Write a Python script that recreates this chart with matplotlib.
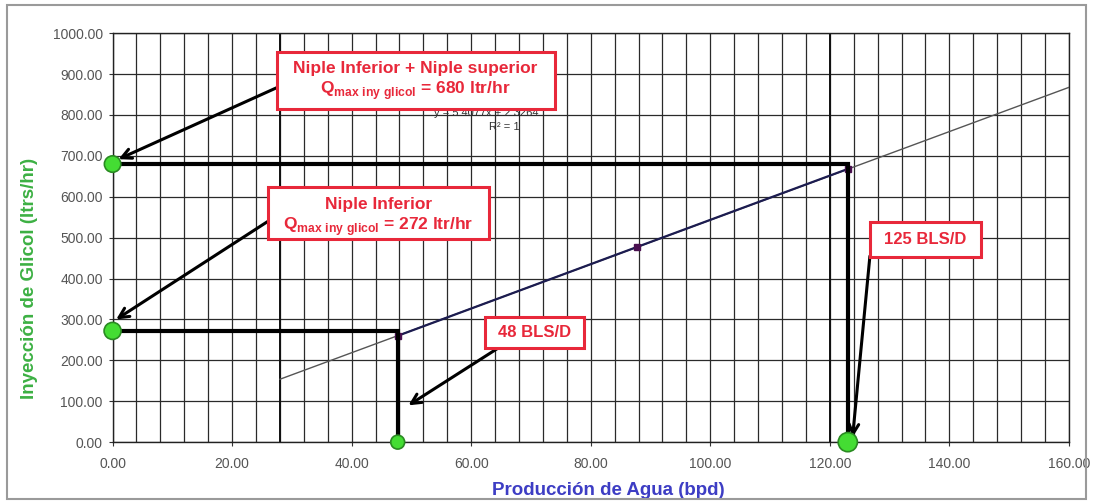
import matplotlib
matplotlib.use("Agg")
import matplotlib.pyplot as plt
from matplotlib.patches import Rectangle

plt.rcParams['font.family'] = ['Liberation Sans', 'DejaVu Sans']

# ---- data ----
x_ticks = [0, 20, 40, 60, 80, 100, 120, 140, 160]
y_ticks = [0, 100, 200, 300, 400, 500, 600, 700, 800, 900, 1000]

# measured points (series)
serie_x = [47.7, 87.7, 123.0]
serie_y = [260.0, 477.0, 668.0]

# linear trendline y = 5.4077x + 2.3264 drawn from x=28 to 160
trend_x = [28.0, 160.0]
trend_y = [153.8, 867.6]

# guide paths (injection -> production)
guide_sup_x = [0.0, 123.0, 123.0]
guide_sup_y = [680.0, 680.0, 0.0]
guide_inf_x = [0.0, 47.7, 47.7]
guide_inf_y = [272.0, 272.0, 0.0]

# green reference points
green_x = [0.0, 0.0, 47.7, 123.0]
green_y = [680.0, 272.0, 0.0, 0.0]

eq_text = "y = 5.4077x + 2.3264"
r2_text = "R² = 1"

fig = plt.figure(figsize=(10.93, 5.03), dpi=100)
ax = fig.add_axes([0.103, 0.121, 0.875, 0.813])
ax.set_xlim(0, 160)
ax.set_ylim(0, 1000)

# grid
for gx in range(0, 161, 4):
    ax.axvline(gx, color='#2a2a2a', lw=0.9, zorder=1)
for gy in y_ticks:
    ax.axhline(gy, color='#2a2a2a', lw=0.9, zorder=1)
for gx in [28, 120]:
    ax.axvline(gx, color='#111111', lw=1.4, zorder=1)

ax.set_xticks(x_ticks)
ax.set_yticks(y_ticks)
ax.set_xticklabels([f"{v:.2f}" for v in x_ticks], fontsize=10, color='#555555')
ax.set_yticklabels([f"{v:.2f}" for v in y_ticks], fontsize=10, color='#555555')
ax.tick_params(axis='x', length=3, color='#333333', pad=8)
ax.tick_params(axis='y', length=3, color='#333333', pad=4)
for s in ax.spines.values():
    s.set_color('#222222')
    s.set_linewidth(1.0)

ax.set_xlabel("Producción de Agua (bpd)", fontsize=13.5, fontweight='bold',
              color='#3d3dc4')
ax.xaxis.set_label_coords(0.518, -0.098)
ax.set_ylabel("Inyección de Glicol (ltrs/hr)", fontsize=13.5, fontweight='bold',
              color='#3cb043')
ax.yaxis.set_label_coords(-0.078, 0.40)

# trendline and series
ax.plot(trend_x, trend_y, color='#555555', lw=1.0, zorder=3)
ax.plot(serie_x, serie_y, color='#1c1c50', lw=1.6, marker='s', ms=5,
        mfc='#4a1050', mec='#4a1050', zorder=4)

# guides
ax.plot(guide_sup_x, guide_sup_y, color='black', lw=3.0, zorder=5,
        solid_joinstyle='miter', clip_on=False)
ax.plot(guide_inf_x, guide_inf_y, color='black', lw=3.0, zorder=5,
        solid_joinstyle='miter', clip_on=False)

# green points
ax.scatter(green_x, green_y, s=[140, 150, 100, 190], marker='o',
           color='#44dd33', edgecolors='#2a8a22', linewidths=1.2,
           zorder=7, clip_on=False)

# equation text
ax.text(62.5, 806, eq_text, fontsize=8, color='#333333', ha='center',
        va='center', zorder=4)
ax.text(65.5, 770, r2_text, fontsize=8, color='#333333', ha='center',
        va='center', zorder=4)

red = '#e8283a'
qsub = r"$\mathregular{Q}_{\mathregular{max\ iny\ glicol}}$"

# box 1
ax.add_patch(Rectangle((27.5, 815), 46.5, 138, fc='white', ec=red, lw=2.2, zorder=8))
ax.text(50.7, 913, "Niple Inferior + Niple superior", fontsize=12.5,
        fontweight='bold', color=red, ha='center', va='center', zorder=9)
ax.text(50.7, 860, qsub + " = 680 ltr/hr", fontsize=12.5, fontweight='bold',
        color=red, ha='center', va='center', zorder=9)

# box 2
ax.add_patch(Rectangle((26.0, 497), 37.0, 128, fc='white', ec=red, lw=2.2, zorder=8))
ax.text(44.5, 580, "Niple Inferior", fontsize=12.5, fontweight='bold',
        color=red, ha='center', va='center', zorder=9)
ax.text(44.5, 528, qsub + " = 272 ltr/hr", fontsize=12.5, fontweight='bold',
        color=red, ha='center', va='center', zorder=9)

# box 3
ax.add_patch(Rectangle((62.3, 230), 16.6, 76, fc='white', ec=red, lw=2.2, zorder=8))
ax.text(70.6, 268, "48 BLS/D", fontsize=12, fontweight='bold', color=red,
        ha='center', va='center', zorder=9)

# box 4
ax.add_patch(Rectangle((126.7, 452), 18.6, 86, fc='white', ec=red, lw=2.2, zorder=8))
ax.text(136.0, 495, "125 BLS/D", fontsize=12, fontweight='bold', color=red,
        ha='center', va='center', zorder=9)

# arrows
arrow_kw = dict(arrowstyle='->,head_length=0.7,head_width=0.35', color='black',
                lw=2.2, shrinkA=0, shrinkB=0)
ax.annotate("", xy=(1.0, 692), xytext=(27.5, 867), arrowprops=arrow_kw, zorder=6)
ax.annotate("", xy=(0.6, 300), xytext=(26.0, 540), arrowprops=arrow_kw, zorder=6)
ax.annotate("", xy=(49.5, 90), xytext=(64.5, 230), arrowprops=arrow_kw, zorder=6)
ax.annotate("", xy=(123.8, 12), xytext=(126.7, 455), arrowprops=arrow_kw, zorder=6)

# outer frame
fig.patches.append(Rectangle((0.006, 0.008), 0.988, 0.982, transform=fig.transFigure,
                             fill=False, ec='#9a9a9a', lw=1.5))

fig.savefig("out.png", dpi=100)
